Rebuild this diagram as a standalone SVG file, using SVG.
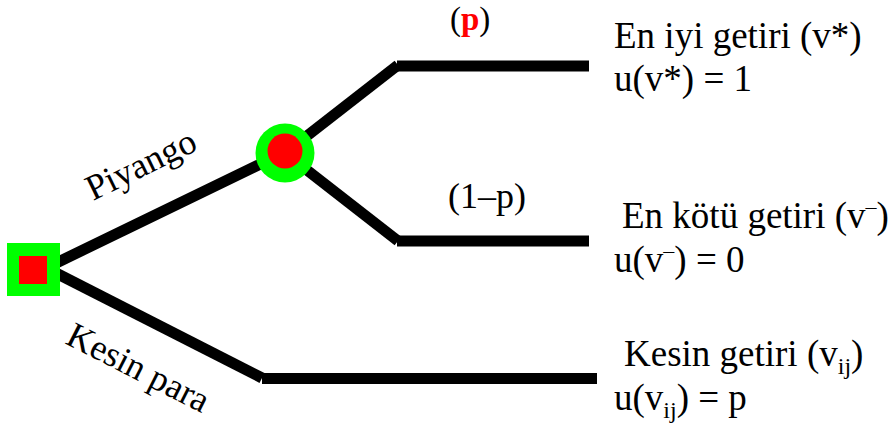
<svg xmlns="http://www.w3.org/2000/svg" width="895" height="429" viewBox="0 0 895 429">
<style>
.br{stroke:#000;stroke-width:11;fill:none;stroke-linecap:butt}
</style>
<rect width="895" height="429" fill="#fff"/>
<g id="connectors">
<line class="br" x1="50" y1="266" x2="285" y2="152"/>
<line class="br" x1="50" y1="270" x2="262" y2="378"/>
<line class="br" x1="262" y1="378.5" x2="597" y2="378.5"/>
<line class="br" x1="285" y1="153" x2="398" y2="65"/>
<line class="br" x1="397" y1="66" x2="589" y2="66"/>
<line class="br" x1="285" y1="153" x2="398" y2="241"/>
<line class="br" x1="397" y1="241" x2="589" y2="241"/>
</g>
<g id="decision">
<rect x="7" y="243" width="53" height="53" fill="#00ff00"/>
<rect x="19" y="256" width="28" height="28" fill="#ff0000"/>
</g>
<g id="chance">
<circle cx="285" cy="153" r="29.5" fill="#00ff00"/>
<circle cx="285" cy="151" r="17.5" fill="#ff0000"/>
</g>
<g id="label-piyango">
<text font-family="Liberation Serif" font-size="36" transform="translate(93,201) rotate(-26)">Piyango</text>
</g>
<g id="label-kesin">
<text font-family="Liberation Serif" font-size="36" transform="translate(64,343) rotate(27)">Kesin para</text>
</g>
<g id="prob-p">
<text font-family="Liberation Serif" font-size="33" x="450" y="30">(<tspan fill="#ff0000" font-weight="bold">p</tspan>)</text>
</g>
<g id="prob-1p">
<text font-family="Liberation Serif" font-size="36" x="448" y="208">(1–p)</text>
</g>
<g id="best">
<text font-family="Liberation Serif" font-size="37" x="614" y="48">En iyi getiri (v*)</text>
<text font-family="Liberation Serif" font-size="37" x="614" y="91">u(v*) = 1</text>
</g>
<g id="worst">
<text font-family="Liberation Serif" font-size="37" x="622" y="228">En kötü getiri (v<tspan font-size="22" dy="-14">–</tspan><tspan dy="14">)</tspan></text>
<text font-family="Liberation Serif" font-size="37" x="614" y="272">u(v<tspan font-size="22" dy="-14">–</tspan><tspan dy="14">) = 0</tspan></text>
</g>
<g id="certain">
<text font-family="Liberation Serif" font-size="37" x="624" y="366">Kesin getiri (v<tspan font-size="24" dy="8">ij</tspan><tspan dy="-8">)</tspan></text>
<text font-family="Liberation Serif" font-size="37" x="614" y="410">u(v<tspan font-size="24" dy="8">ij</tspan><tspan dy="-8">) = p</tspan></text>
</g>
</svg>
